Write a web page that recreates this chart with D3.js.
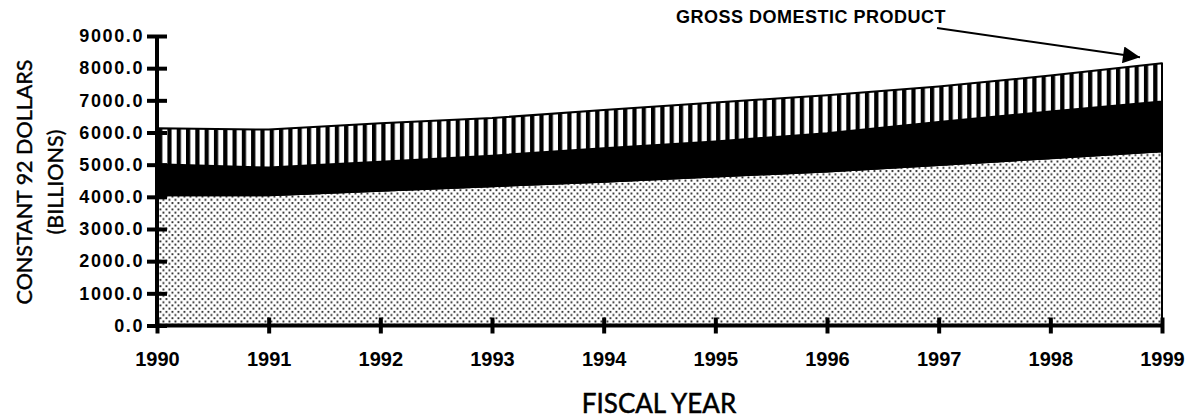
<!DOCTYPE html>
<html>
<head>
<meta charset="utf-8">
<script src="https://cdn.jsdelivr.net/npm/d3@7"></script>
<style>
  html, body { margin: 0; padding: 0; background: #fff; }
  svg { display: block; }
</style>
</head>
<body>
<svg id="chart"></svg>
<script>
// Fiscal years on the x axis
const years = [1990, 1991, 1992, 1993, 1994, 1995, 1996, 1997, 1998, 1999];

// Stacked components (constant 92 dollars, billions)
const dottedPart  = [4050, 4050, 4190, 4330, 4470, 4630, 4790, 4990, 5200, 5420];
const blackPart   = [ 960,  860,  900,  950, 1040, 1090, 1190, 1340, 1450, 1540];
const stripedPart = [1120, 1180, 1200, 1170, 1190, 1210, 1180, 1100, 1120, 1190];

const yTicks = [0, 1000, 2000, 3000, 4000, 5000, 6000, 7000, 8000, 9000];

const annotation = "GROSS DOMESTIC PRODUCT";
const xTitle = "FISCAL YEAR";
const yTitle = ["CONSTANT 92 DOLLARS", "(BILLIONS)"];

const W = 1192, H = 418;
const svg = d3.select("#chart").attr("width", W).attr("height", H);

// patterns
const defs = svg.append("defs");
const dots = defs.append("pattern")
  .attr("id", "dots").attr("patternUnits", "userSpaceOnUse")
  .attr("width", 6).attr("height", 6.4);
dots.append("rect").attr("width", 6).attr("height", 6.4).attr("fill", "#fff");
dots.append("rect").attr("x", 0.5).attr("y", 0.5).attr("width", 1.9).attr("height", 1.9).attr("fill", "#333");
dots.append("rect").attr("x", 3.5).attr("y", 3.7).attr("width", 1.9).attr("height", 1.9).attr("fill", "#333");

const stripes = defs.append("pattern")
  .attr("id", "stripes").attr("patternUnits", "userSpaceOnUse")
  .attr("width", 9.3).attr("height", 10);
stripes.append("rect").attr("width", 9.3).attr("height", 10).attr("fill", "#fff");
stripes.append("rect").attr("x", 0).attr("width", 4.2).attr("height", 10).attr("fill", "#000");

defs.append("marker")
  .attr("id", "arrow").attr("viewBox", "0 0 10 10")
  .attr("refX", 10).attr("refY", 5)
  .attr("markerWidth", 20).attr("markerHeight", 17)
  .attr("markerUnits", "userSpaceOnUse")
  .attr("orient", "auto")
  .append("path").attr("d", "M0,0 L10,5 L0,10 Z").attr("fill", "#000");

// scales
const x = d3.scaleLinear().domain([1990, 1999]).range([157, 1162]);
const y = d3.scaleLinear().domain([0, 9000]).range([325.5, 36]);

const table = years.map((yr, i) => ({
  year: yr, dotted: dottedPart[i], black: blackPart[i], striped: stripedPart[i]
}));
const keys = ["dotted", "black", "striped"];
const fills = { dotted: "url(#dots)", black: "#000", striped: "url(#stripes)" };
const series = d3.stack().keys(keys)(table);

const area = d3.area()
  .x(d => x(d.data.year))
  .y0(d => y(d[0]))
  .y1(d => y(d[1]));

svg.append("g").selectAll("path")
  .data(series)
  .join("path")
  .attr("d", area)
  .attr("fill", d => fills[d.key])
  .attr("stroke", "#000")
  .attr("stroke-width", 2)
  .attr("stroke-linejoin", "round");

// x axis
const xAxis = svg.append("g")
  .attr("transform", `translate(0,${y(0)})`)
  .call(d3.axisBottom(x).tickValues(years).tickFormat(d3.format("d")).tickSize(8).tickPadding(18));
xAxis.select(".domain").attr("stroke-width", 4).attr("d", `M${x(1990)},0H${x(1999)}`);
xAxis.selectAll(".tick line").attr("y1", -8).attr("y2", 8).attr("stroke-width", 4);
xAxis.selectAll(".tick text")
  .attr("font-family", "'Liberation Sans', Arial, sans-serif")
  .attr("font-weight", "bold").attr("font-size", 20).attr("fill", "#000");

// y axis
const yAxis = svg.append("g")
  .attr("transform", `translate(${x(1990)},0)`)
  .call(d3.axisLeft(y).tickValues(yTicks).tickFormat(d3.format(".1f")).tickSize(10).tickPadding(3));
yAxis.select(".domain").attr("stroke-width", 4).attr("d", `M0,${y(9000)}V${y(0)}`);
yAxis.selectAll(".tick line").attr("x1", -10).attr("x2", 10).attr("stroke-width", 4);
yAxis.selectAll(".tick text")
  .attr("font-family", "'Liberation Sans', Arial, sans-serif")
  .attr("font-weight", "bold").attr("font-size", 18).attr("letter-spacing", 1.6).attr("fill", "#000");

// axis titles
svg.append("text")
  .attr("x", 659).attr("y", 413)
  .attr("text-anchor", "middle")
  .attr("font-family", "Lato, sans-serif").attr("font-size", 26)
  .attr("stroke", "#000").attr("stroke-width", 0.5)
  .text(xTitle);

svg.append("g")
  .attr("transform", "translate(0,182) rotate(-90)")
  .selectAll("text")
  .data(yTitle)
  .join("text")
  .attr("x", 0)
  .attr("y", (d, i) => 32 + i * 31)
  .attr("text-anchor", "middle")
  .attr("font-family", "Lato, sans-serif").attr("font-size", 21.5)
  .attr("stroke", "#000").attr("stroke-width", 0.4)
  .text(d => d);

// annotation
svg.append("text")
  .attr("x", 946).attr("y", 23)
  .attr("text-anchor", "end")
  .attr("font-family", "'Liberation Sans', Arial, sans-serif")
  .attr("font-weight", "bold").attr("font-size", 18).attr("letter-spacing", 0.5)
  .text(annotation);

const last = series[series.length - 1][years.length - 1];
svg.append("line")
  .attr("x1", 937).attr("y1", 28)
  .attr("x2", x(1999) - 22).attr("y2", y(last[1]) - 6)
  .attr("stroke", "#000").attr("stroke-width", 2)
  .attr("marker-end", "url(#arrow)");
</script>
</body>
</html>
